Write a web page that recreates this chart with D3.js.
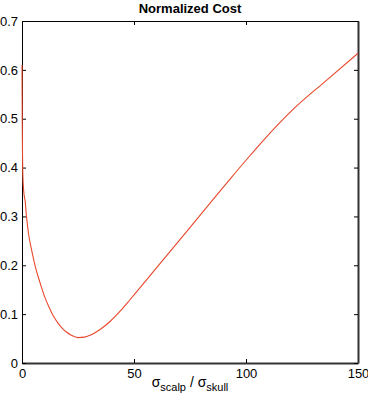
<!DOCTYPE html>
<html><head><meta charset="utf-8">
<script src="https://cdn.jsdelivr.net/npm/d3@7"></script>
<style>body{margin:0;background:#fff}svg{display:block}text{font-family:"Liberation Sans",Arial,sans-serif;fill:#000}</style>
</head><body><svg id="c" width="368" height="402"></svg>
<script>
const ratio = [0, 0.1, 0.25, 0.5, 1, 1.34, 2, 3, 4.3, 5.8, 8, 10, 12, 14, 16, 18, 20, 22, 25, 28, 31, 35, 39.3, 44, 48.3, 63, 70.6, 92.6, 100, 110, 121, 135, 150];
const cost  = [0.61, 0.5, 0.42, 0.37, 0.342, 0.334, 0.3, 0.262, 0.231, 0.2, 0.165, 0.137, 0.115, 0.096, 0.082, 0.071, 0.063, 0.057, 0.052, 0.053, 0.058, 0.069, 0.085, 0.107, 0.130, 0.211, 0.253, 0.375, 0.415, 0.467, 0.519, 0.575, 0.634];
const xTicks = [0, 50, 100, 150];
const yTicks = [0, 0.1, 0.2, 0.3, 0.4, 0.5, 0.6, 0.7];

const svg = d3.select("#c");
const L = 22, R = 358, T = 21, B = 363;
const x = d3.scaleLinear().domain([0, 150]).range([L, R]);
const y = d3.scaleLinear().domain([0, 0.7]).range([B, T]);

// axes with inward ticks
const fmtY = d => d === 0 ? "0" : d3.format(".1f")(d);
const gB = svg.append("g").attr("transform",`translate(0,${B})`)
  .call(d3.axisBottom(x).tickValues(xTicks).tickSizeInner(-4).tickSizeOuter(0).tickPadding(6));
const gL = svg.append("g").attr("transform",`translate(${L},0)`)
  .call(d3.axisLeft(y).tickValues(yTicks).tickFormat(fmtY).tickSizeInner(-4).tickSizeOuter(0).tickPadding(4));
const gT = svg.append("g").attr("transform",`translate(0,${T})`)
  .call(d3.axisTop(x).tickValues(xTicks).tickSizeInner(-4).tickSizeOuter(0).tickFormat(""));
const gR = svg.append("g").attr("transform",`translate(${R},0)`)
  .call(d3.axisRight(y).tickValues(yTicks).tickSizeInner(-4).tickSizeOuter(0).tickFormat(""));
[gB,gL,gT,gR].forEach(g=>{
  g.selectAll("text").style("font-family","'Liberation Sans',Arial,sans-serif").style("font-size","13px").attr("fill","#000");
  g.selectAll("line").attr("stroke","#000");
  g.select(".domain").attr("stroke","#000");
});
gB.select(".domain").attr("stroke","#333").attr("stroke-width",2);
gR.select(".domain").attr("stroke","#333").attr("stroke-width",2);

// curve (drawn over the axes so the steep start stays visible)
const line = d3.line().x((d,i)=>x(ratio[i])).y((d,i)=>y(cost[i])).curve(d3.curveMonotoneX);
svg.append("path").datum(cost).attr("d", line).attr("fill","none").attr("stroke","#e8482c").attr("stroke-width",1.1);

// title
svg.append("text").attr("x", 190).attr("y", 13).attr("text-anchor","middle")
  .style("font-size","13px").style("font-weight","bold").text("Normalized Cost");

// x label
const xl = svg.append("text").attr("x", 190).attr("y", 387).attr("text-anchor","middle").style("font-size","14px");
xl.append("tspan").text("σ");
xl.append("tspan").attr("dy",4).style("font-size","11px").text("scalp");
xl.append("tspan").attr("dy",-4).text(" / σ");
xl.append("tspan").attr("dy",4).style("font-size","11px").text("skull");
</script></body></html>
